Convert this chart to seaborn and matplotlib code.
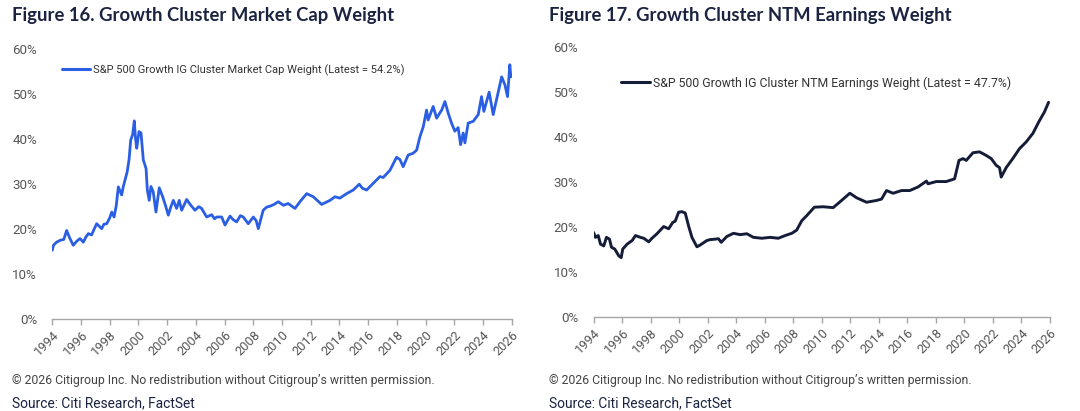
import numpy as np
import pandas as pd
import matplotlib.pyplot as plt
import seaborn as sns

sns.set_theme(style="white")
plt.rcParams["font.family"] = ["Roboto", "DejaVu Sans"]

# --- DATA ---
cap_years = [
    1994.00, 1994.08, 1994.30, 1994.54, 1994.80, 1995.00, 1995.20, 1995.46, 1995.70, 1995.93,
    1996.16, 1996.35, 1996.51, 1996.74, 1996.90, 1997.09, 1997.44, 1997.60, 1997.79, 1998.00,
    1998.14, 1998.30, 1998.45, 1998.60, 1998.83, 1998.94, 1999.22, 1999.35, 1999.46, 1999.60,
    1999.71, 1999.80, 1999.88, 2000.04, 2000.18, 2000.34, 2000.53, 2000.62, 2000.75, 2000.87,
    2001.03, 2001.22, 2001.45, 2001.69, 2001.90, 2002.08, 2002.25, 2002.43, 2002.66, 2002.84,
    2003.01, 2003.36, 2003.60, 2003.94, 2004.20, 2004.40, 2004.75, 2005.10, 2005.30, 2005.45,
    2005.80, 2006.03, 2006.38, 2006.60, 2006.84, 2007.10, 2007.30, 2007.65, 2008.00, 2008.20,
    2008.35, 2008.69, 2008.93, 2009.16, 2009.45, 2009.74, 2010.10, 2010.43, 2010.90, 2011.30,
    2011.72, 2012.18, 2012.76, 2013.34, 2013.69, 2014.03, 2014.50, 2014.96, 2015.38, 2015.60,
    2015.89, 2016.35, 2016.82, 2017.05, 2017.52, 2017.98, 2018.21, 2018.44, 2018.79, 2019.14,
    2019.38, 2019.61, 2019.84, 2020.07, 2020.18, 2020.53, 2020.77, 2021.12, 2021.35, 2021.58,
    2021.81, 2022.04, 2022.27, 2022.44, 2022.62, 2022.74, 2022.97, 2023.32, 2023.67, 2023.90,
    2024.06, 2024.43, 2024.71, 2024.99, 2025.30, 2025.53, 2025.71, 2025.87, 2025.94, 2026.00,
]
cap_weight = [
    15.2, 16.3, 17.0, 17.4, 17.6, 19.6, 18.0, 16.3, 17.2, 17.8,
    17.0, 18.2, 18.9, 18.6, 19.8, 21.1, 20.0, 21.0, 21.1, 22.4,
    23.7, 22.6, 25.0, 29.3, 27.5, 29.3, 32.7, 35.5, 39.7, 41.0,
    44.0, 40.0, 37.9, 41.6, 41.3, 35.3, 33.4, 28.6, 26.3, 29.4,
    28.2, 23.7, 29.1, 27.1, 25.0, 23.0, 24.8, 26.3, 24.5, 26.3,
    24.1, 26.5, 25.4, 24.1, 24.9, 24.5, 22.6, 23.1, 22.2, 22.6,
    22.6, 20.8, 22.8, 22.0, 21.5, 22.9, 22.6, 21.1, 22.6, 21.8,
    20.0, 24.1, 24.8, 25.0, 25.4, 26.0, 25.2, 25.6, 24.5, 26.2,
    27.8, 27.1, 25.4, 26.3, 27.1, 26.8, 27.8, 28.6, 29.9, 29.0,
    28.6, 30.1, 31.6, 31.4, 33.0, 35.9, 35.4, 33.8, 36.4, 36.8,
    37.5, 40.5, 42.7, 46.4, 44.2, 47.2, 44.6, 46.4, 48.3, 45.7,
    43.5, 41.7, 42.5, 38.7, 41.3, 39.1, 43.5, 43.9, 45.4, 49.4,
    46.1, 50.4, 45.4, 49.4, 53.8, 52.0, 49.4, 56.5, 53.8, 54.2,
]

eps_years = [
    1994.00, 1994.14, 1994.33, 1994.49, 1994.72, 1994.91, 1995.12, 1995.26, 1995.49, 1995.77,
    1995.94, 1996.05, 1996.36, 1996.71, 1996.94, 1997.29, 1997.52, 1997.87, 1998.10, 1998.45,
    1998.92, 1999.27, 1999.55, 1999.73, 1999.97, 2000.20, 2000.43, 2000.66, 2000.90, 2001.25,
    2001.48, 2001.95, 2002.18, 2002.53, 2002.76, 2002.95, 2003.35, 2003.81, 2004.28, 2004.75,
    2005.21, 2005.80, 2006.38, 2006.96, 2007.43, 2007.90, 2008.24, 2008.60, 2008.94, 2009.48,
    2010.10, 2010.80, 2011.39, 2011.97, 2012.44, 2013.14, 2013.84, 2014.19, 2014.54, 2015.00,
    2015.59, 2016.17, 2016.75, 2017.34, 2017.45, 2018.03, 2018.73, 2019.31, 2019.62, 2019.90,
    2020.13, 2020.60, 2021.06, 2021.53, 2021.88, 2022.23, 2022.46, 2022.58, 2022.93, 2023.39,
    2023.86, 2024.33, 2024.80, 2025.22, 2025.60, 2025.90,
]
eps_weight = [
    18.8, 17.7, 18.1, 16.2, 15.8, 17.7, 17.3, 15.5, 15.1, 13.6,
    13.2, 15.1, 16.2, 17.0, 18.1, 17.7, 17.5, 16.7, 17.5, 18.5,
    20.1, 19.6, 21.0, 21.3, 23.3, 23.4, 23.1, 20.3, 17.7, 15.6,
    16.0, 17.0, 17.2, 17.3, 17.4, 16.6, 17.9, 18.6, 18.3, 18.5,
    17.7, 17.5, 17.7, 17.5, 18.1, 18.6, 19.3, 21.4, 22.5, 24.4,
    24.5, 24.3, 25.9, 27.5, 26.5, 25.5, 25.9, 26.2, 28.1, 27.5,
    28.1, 28.1, 28.9, 30.2, 29.6, 30.1, 30.1, 30.7, 34.8, 35.2,
    34.8, 36.5, 36.7, 35.9, 35.2, 33.7, 33.2, 31.1, 33.2, 35.2,
    37.4, 38.9, 40.8, 43.4, 45.5, 47.7,
]

year_ticks = list(range(1994, 2027, 2))
pct_ticks = [0, 10, 20, 30, 40, 50, 60]

cap_label = "S&P 500 Growth IG Cluster Market Cap Weight (Latest = 54.2%)"
eps_label = "S&P 500 Growth IG Cluster NTM Earnings Weight (Latest = 47.7%)"
title_left = "Figure 16. Growth Cluster Market Cap Weight"
title_right = "Figure 17. Growth Cluster NTM Earnings Weight"
copyright_note = "\u00a9 2026 Citigroup Inc. No redistribution without Citigroup\u2019s written permission."
source_note = "Source: Citi Research, FactSet"

cap_df = pd.DataFrame({"year": cap_years, "weight": cap_weight, "series": cap_label})
eps_df = pd.DataFrame({"year": eps_years, "weight": eps_weight, "series": eps_label})

BLUE = "#2b5fe3"
NAVY = "#141c38"
TEXT = "#1b2340"
GREY = "#555555"

fig = plt.figure(figsize=(10.8, 4.11), dpi=100)
W, H = 1080, 411
ax1 = fig.add_axes([52.3 / W, 1 - 318.5 / H, 459.4 / W, 269.5 / H])
ax2 = fig.add_axes([593.5 / W, 1 - 317 / H, 456.5 / W, 270 / H])

sns.lineplot(data=cap_df, x="year", y="weight", hue="series", palette=[BLUE],
             linewidth=2.0, ax=ax1)
sns.lineplot(data=eps_df, x="year", y="weight", hue="series", palette=[NAVY],
             linewidth=2.1, ax=ax2)

for ax in (ax1, ax2):
    ax.set_xlim(1994, 2026)
    ax.set_ylim(0, 60)
    ax.set_xlabel("")
    ax.set_ylabel("")
    for s in ("left", "top", "right"):
        ax.spines[s].set_visible(False)
    ax.spines["bottom"].set_color("#a6a6a6")
    ax.spines["bottom"].set_linewidth(1.0)
    ax.set_yticks(pct_ticks)
    ax.set_yticklabels([f"{p}%" for p in pct_ticks])
    ax.tick_params(axis="y", length=0, pad=11, labelsize=9.6, labelcolor=GREY)
    ax.set_xticks(year_ticks)
    ax.set_xticklabels([str(y) for y in year_ticks], rotation=45, ha="right",
                       rotation_mode="anchor")
    ax.tick_params(axis="x", direction="out", length=4, width=1, color="#a6a6a6",
                   pad=3, labelsize=9.3, labelcolor=GREY, bottom=True)
    ax.grid(False)

leg1 = ax1.legend(loc="center left", bbox_to_anchor=(0.021, 0.922), frameon=False,
                  handlelength=2.5, handletextpad=0.25, borderpad=0, borderaxespad=0,
                  prop={"size": 8.0})
leg2 = ax2.legend(loc="center left", bbox_to_anchor=(0.060, 0.867), frameon=False,
                  handlelength=2.4, handletextpad=0.2, borderpad=0, borderaxespad=0,
                  prop={"size": 8.85})
for leg in (leg1, leg2):
    for t in leg.get_texts():
        t.set_color("#333333")
    for h in leg.get_lines():
        h.set_linewidth(2.2)

for x0, title in ((12, title_left), (549, title_right)):
    fig.text(x0 / W, 1 - 15 / H, title, ha="left", va="center", fontsize=13.3,
             fontweight="bold", color=TEXT, family=["Lato", "DejaVu Sans"])
    fig.text(x0 / W, 1 - 380 / H, copyright_note, ha="left", va="center",
             fontsize=8.85, color="#444444")
    fig.text(x0 / W, 1 - 403 / H, source_note, ha="left", va="center",
             fontsize=9.9, color=TEXT)

fig.savefig("out.png", dpi=100)
